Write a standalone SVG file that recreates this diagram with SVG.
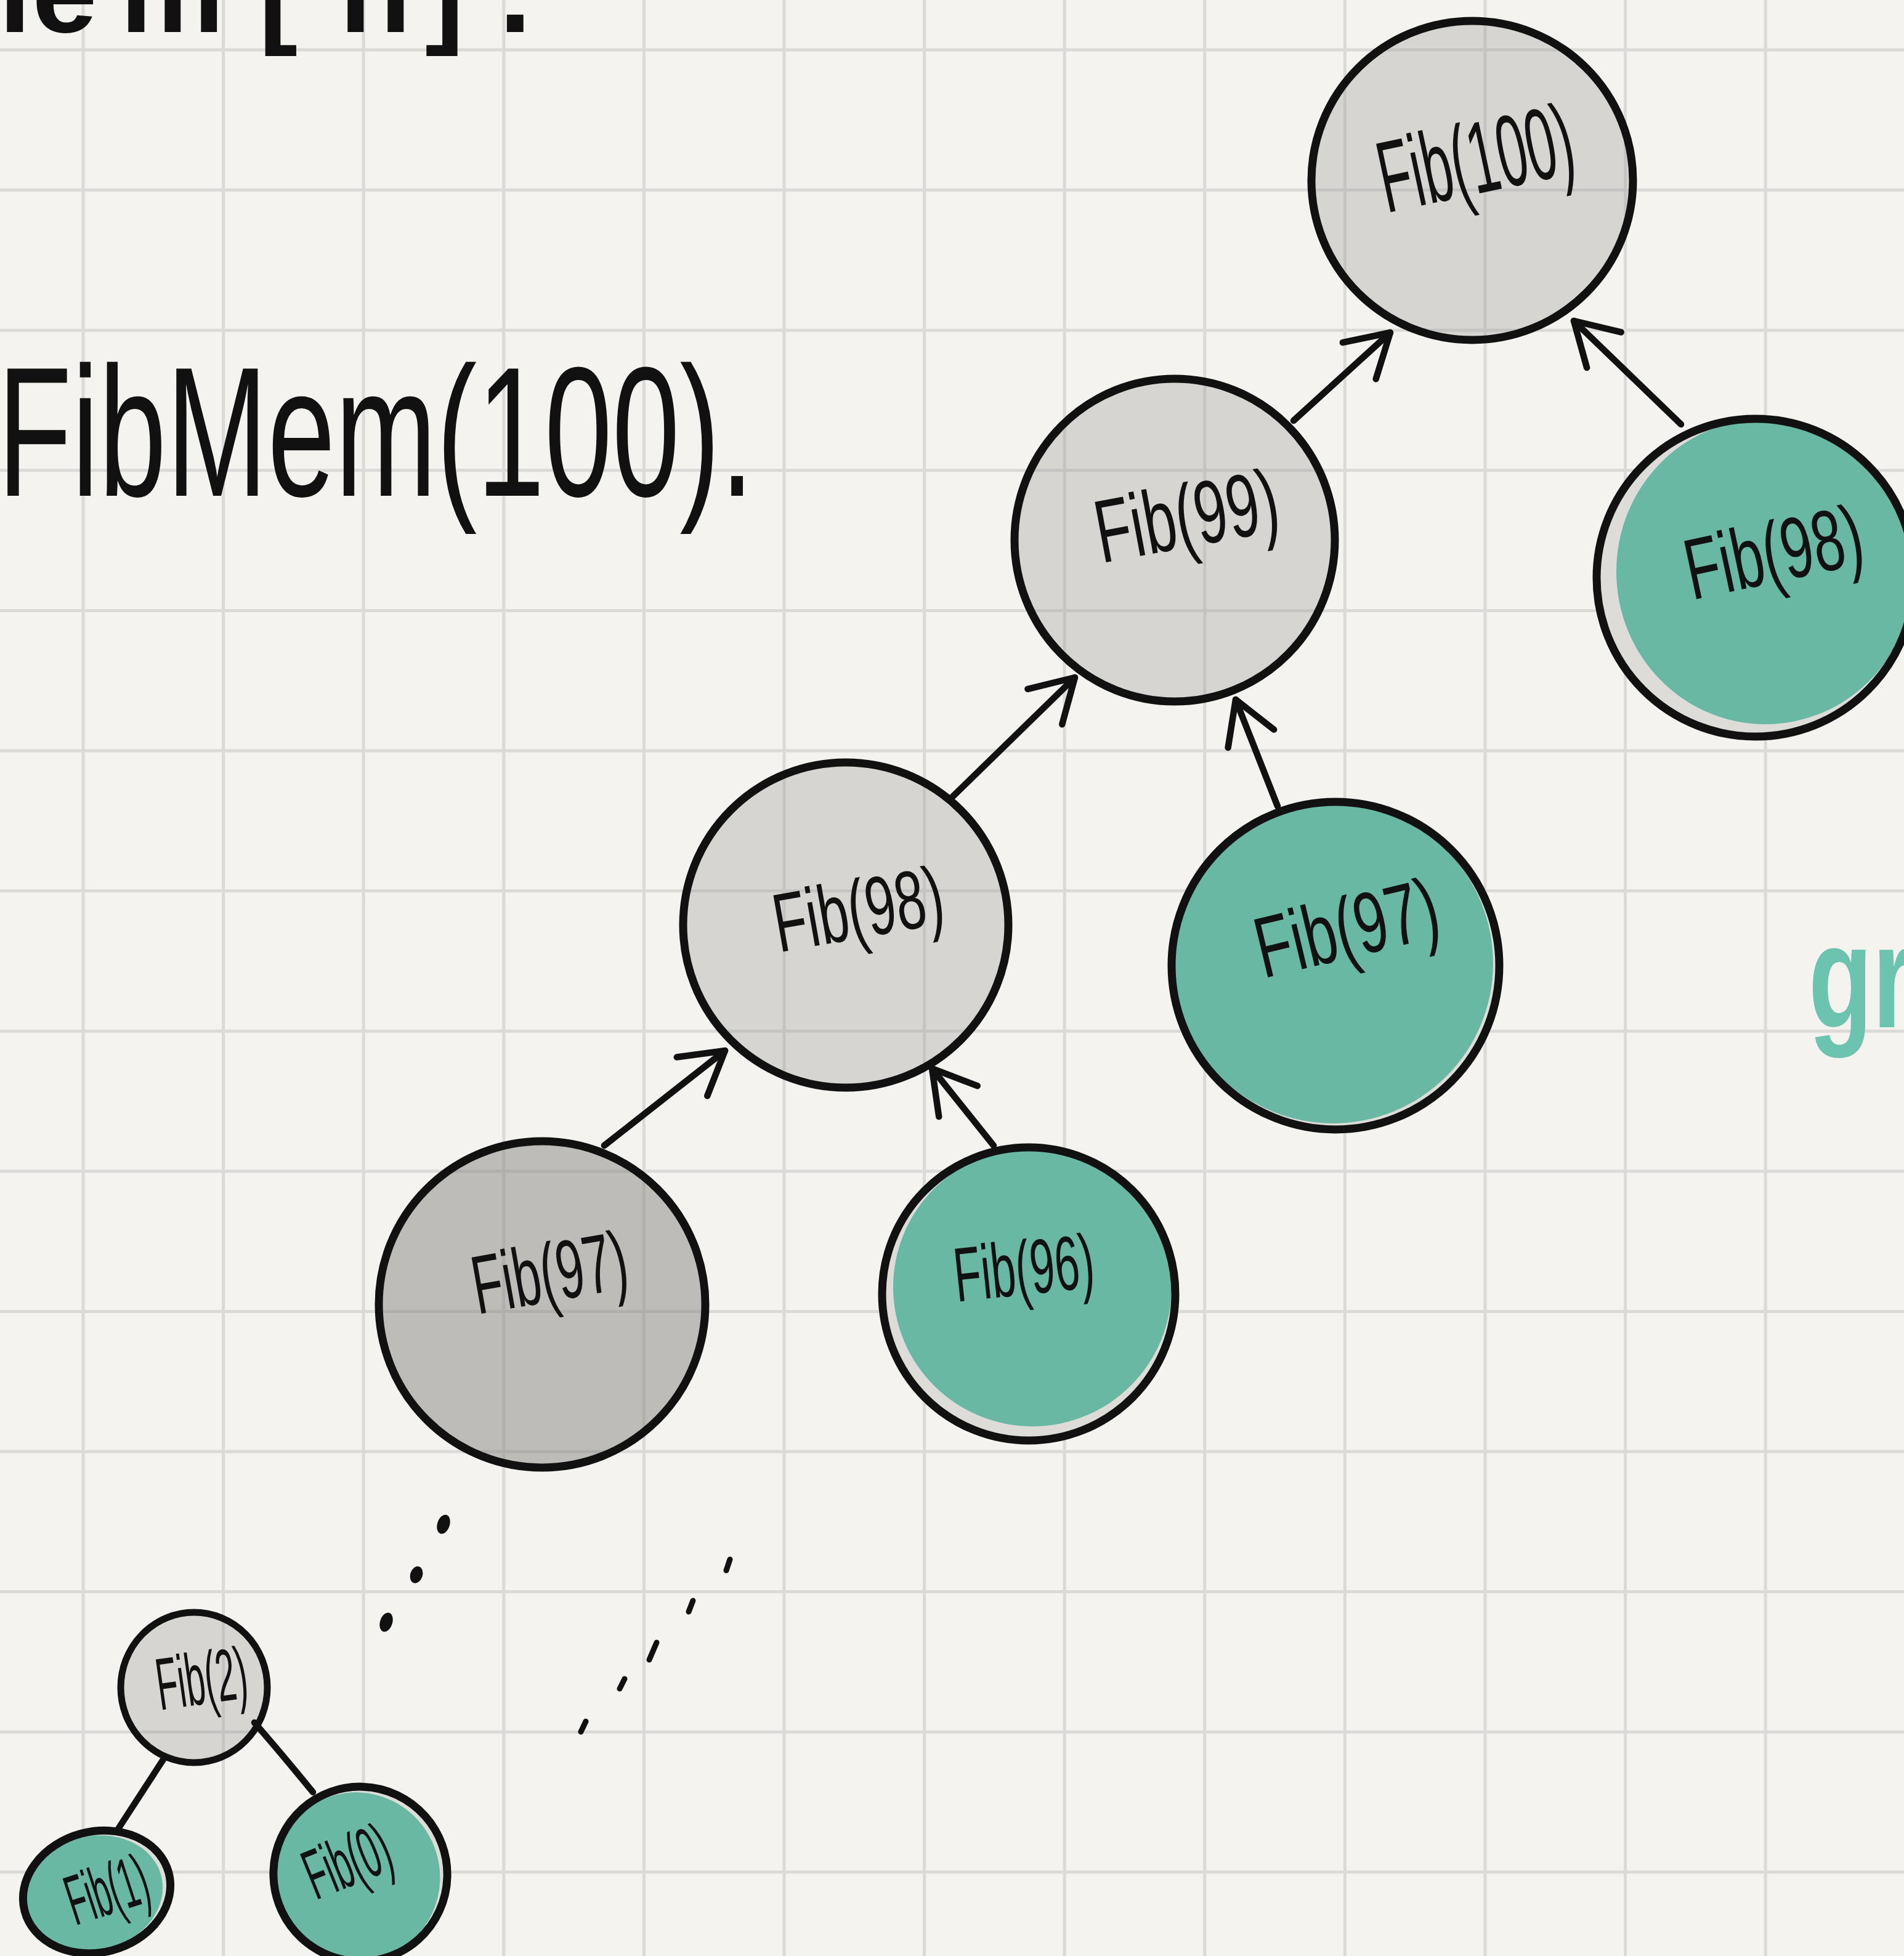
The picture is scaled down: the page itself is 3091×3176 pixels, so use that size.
<svg xmlns="http://www.w3.org/2000/svg" width="3091" height="3176" viewBox="0 0 3091 3176">
<style>
.grid{fill:none;stroke:#dcdad8;stroke-width:5}
.ring{fill:none;stroke:#111;stroke-width:13}
.gray{fill:#9c9b97;fill-opacity:0.34}
.dark{fill:#7a7975;fill-opacity:0.45}
.teal{fill:#69b8a3}
.patch{fill:#dddcd8}
.lbl{font-family:"Liberation Sans",Arial,sans-serif;fill:#111;text-anchor:middle}
.edge{fill:none;stroke:#111;stroke-width:10.5;stroke-linecap:round;stroke-linejoin:round}
.dot{fill:#111}
.dash{fill:none;stroke:#111;stroke-width:9;stroke-linecap:round}
</style>
<defs>
<marker id="arrow" markerUnits="userSpaceOnUse" markerWidth="200" markerHeight="200" viewBox="-100 -100 200 200" refX="0" refY="0" orient="auto" overflow="visible">
<path d="M-68,-40 L0,0 L-68,40" fill="none" stroke="#111" stroke-width="10.5" stroke-linecap="round" stroke-linejoin="round"/>
</marker>
</defs>
<rect x="0" y="0" width="3091" height="3176" fill="#f4f3f0"/>
<path class="grid" d="M135 0V3176M362.6 0V3176M590.2 0V3176M817.8 0V3176M1045.4 0V3176M1273 0V3176M1500.6 0V3176M1728.2 0V3176M1955.8 0V3176M2183.4 0V3176M2411 0V3176M2638.6 0V3176M2866.2 0V3176M0 81H3091M0 308.6H3091M0 536.2H3091M0 763.8H3091M0 991.4H3091M0 1219H3091M0 1446.6H3091M0 1674.2H3091M0 1901.8H3091M0 2129.4H3091M0 2357H3091M0 2584.6H3091M0 2812.2H3091M0 3039.8H3091"/>

<g id="heading-top">
<text font-family="'Liberation Sans',Arial,sans-serif" font-weight="bold" font-size="190" fill="#111" x="-120 52 195 420 551 690 810" y="52">mem[n].</text>
</g>
<g id="title">
<text font-family="'Liberation Sans',Arial,sans-serif" font-size="300" fill="#111" x="-4" y="805" textLength="1228" lengthAdjust="spacingAndGlyphs">FibMem(100).</text>
</g>
<g id="note-green">
<text font-family="'Liberation Sans',Arial,sans-serif" font-weight="bold" font-size="170" fill="#6cc4ae" x="0" y="0" transform="translate(2936 1668) scale(1 1.4)">gr</text>
</g>

<g id="node-fib100">
<ellipse class="gray" cx="2390" cy="293" rx="261" ry="259"/>
<ellipse class="ring" cx="2390" cy="293" rx="261" ry="259"/>
<text class="lbl" font-size="165" x="2395" y="314" textLength="320" lengthAdjust="spacingAndGlyphs" transform="rotate(-12 2395 255)">Fib(100)</text>
</g>
<g id="node-fib99">
<ellipse class="gray" cx="1907" cy="877" rx="260" ry="262"/>
<ellipse class="ring" cx="1907" cy="877" rx="260" ry="262"/>
<text class="lbl" font-size="145" x="1926" y="888" textLength="300" lengthAdjust="spacingAndGlyphs" transform="rotate(-10.5 1926 836)">Fib(99)</text>
</g>
<g id="node-fib98-right">
<ellipse class="patch" cx="2850" cy="938" rx="258" ry="258"/>
<ellipse class="teal" cx="2866" cy="928" rx="242" ry="248"/>
<ellipse class="ring" cx="2850" cy="938" rx="258" ry="258"/>
<text class="lbl" font-size="140" x="2879" y="945" transform="rotate(-12 2879 895) translate(2879 0) scale(0.658 1) translate(-2879 0)">Fib(98)</text>
</g>
<g id="node-fib98-left">
<ellipse class="gray" cx="1373" cy="1502" rx="264" ry="264"/>
<ellipse class="ring" cx="1373" cy="1502" rx="264" ry="264"/>
<text class="lbl" font-size="135" x="1393" y="1523" textLength="278" lengthAdjust="spacingAndGlyphs" transform="rotate(-10 1393 1475)">Fib(98)</text>
</g>
<g id="node-fib97-teal">
<ellipse class="patch" cx="2168" cy="1568" rx="266" ry="266"/>
<ellipse class="teal" cx="2164" cy="1564" rx="260" ry="260"/>
<ellipse class="ring" cx="2168" cy="1568" rx="266" ry="266"/>
<text class="lbl" font-size="140" x="2186" y="1555" textLength="302" lengthAdjust="spacingAndGlyphs" transform="rotate(-13.5 2186 1505)">Fib(97)</text>
</g>
<g id="node-fib97-gray">
<ellipse class="dark" cx="880" cy="2118" rx="265" ry="265"/>
<ellipse class="ring" cx="880" cy="2118" rx="265" ry="265"/>
<text class="lbl" font-size="135" x="892" y="2113" textLength="254" lengthAdjust="spacingAndGlyphs" transform="rotate(-10 892 2065)">Fib(97)</text>
</g>
<g id="node-fib96">
<ellipse class="patch" cx="1670" cy="2101" rx="238" ry="238"/>
<ellipse class="teal" cx="1676" cy="2090" rx="226" ry="226"/>
<ellipse class="ring" cx="1670" cy="2101" rx="238" ry="238"/>
<text class="lbl" font-size="125" x="1662" y="2102" textLength="228" lengthAdjust="spacingAndGlyphs" transform="rotate(-6 1662 2057)">Fib(96)</text>
</g>
<g id="node-fib2">
<ellipse class="gray" cx="315" cy="2740" rx="119" ry="122"/>
<ellipse class="ring" cx="315" cy="2740" rx="119" ry="122" style="stroke-width:11"/>
<text class="lbl" font-size="120" x="327" y="2767" textLength="148" lengthAdjust="spacingAndGlyphs" transform="rotate(-8 327 2724)">Fib(2)</text>
</g>
<g id="node-fib1">
<ellipse class="patch" cx="157" cy="3072" rx="121" ry="98" transform="rotate(-15 157 3072)"/>
<ellipse class="teal" cx="151" cy="3073" rx="114" ry="93" transform="rotate(-15 157 3072)"/>
<ellipse class="ring" cx="157" cy="3072" rx="121" ry="98" transform="rotate(-15 157 3072)"/>
<text class="lbl" font-size="115" x="173" y="3108" textLength="134" lengthAdjust="spacingAndGlyphs" transform="rotate(-18 173 3067)">Fib(1)</text>
</g>
<g id="node-fib0">
<ellipse class="patch" cx="585" cy="3043" rx="141" ry="142" transform="rotate(-20 585 3043)"/>
<ellipse class="teal" cx="579" cy="3045" rx="134" ry="137" transform="rotate(-20 585 3043)"/>
<ellipse class="ring" cx="585" cy="3043" rx="141" ry="142" transform="rotate(-20 585 3043)"/>
<text class="lbl" font-size="115" x="563" y="3062" textLength="142" lengthAdjust="spacingAndGlyphs" transform="rotate(-22 563 3021)">Fib(0)</text>
</g>

<g id="connectors">
<path class="edge" d="M2100 683 L2257 540" marker-end="url(#arrow)"/>
<path class="edge" d="M2729 689 L2555 521" marker-end="url(#arrow)"/>
<path class="edge" d="M1544 1296 L1745 1100" marker-end="url(#arrow)"/>
<path class="edge" d="M2074 1309 L2006 1136" marker-end="url(#arrow)"/>
<path class="edge" d="M981 1860 L1177 1706" marker-end="url(#arrow)"/>
<path class="edge" d="M1613 1860 L1513 1735" marker-end="url(#arrow)"/>
<path class="edge" d="M265 2857 L189 2974"/>
<path class="edge" d="M413 2797 Q455 2845 508 2910"/>
</g>

<g id="ellipsis-left">
<ellipse class="dot" cx="720" cy="2475" rx="10" ry="16" transform="rotate(18 720 2475)"/>
<ellipse class="dot" cx="676" cy="2557" rx="10" ry="14" transform="rotate(18 676 2557)"/>
<ellipse class="dot" cx="627" cy="2634" rx="10" ry="16" transform="rotate(18 627 2634)"/>
</g>
<g id="ellipsis-right">
<path class="dash" d="M1185 2532 L1179 2550"/>
<path class="dash" d="M1125 2599 L1118 2617"/>
<path class="dash" d="M1066 2667 L1054 2695"/>
<path class="dash" d="M1014 2726 L1006 2742"/>
<path class="dash" d="M951 2795 L943 2812"/>
</g>
</svg>
